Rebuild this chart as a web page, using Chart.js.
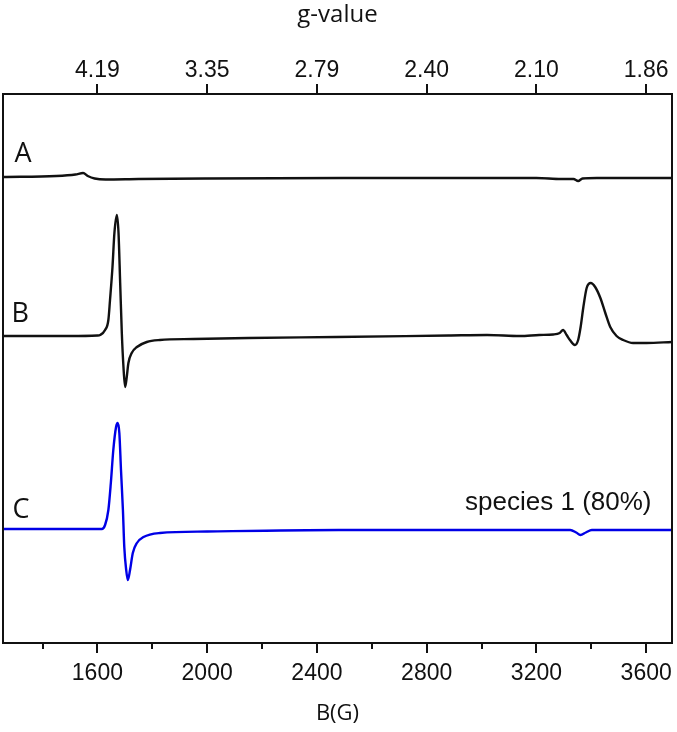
<!DOCTYPE html>
<html>
<head>
<meta charset="utf-8">
<script src="https://cdn.jsdelivr.net/npm/chart.js@4/dist/chart.umd.min.js"></script>
<style>
html,body{margin:0;padding:0;background:#fff;}
canvas{display:block;}
</style>
</head>
<body>
<canvas id="c" width="677" height="732"></canvas>
<script>
// ---- data ----
const fieldA  = [1256, 1450, 1520, 1548, 1565, 1590, 1630, 1750, 2000, 2500, 3000, 3200, 3290, 3335, 3352, 3368, 3420, 3694];
const signalA = [0, 1, 2.5, 4, 1, -1.5, -2.5, -2, -1.5, -1, -1, -1, -2, -2, -4, -1.5, -1, -1];

const fieldB  = [1256, 1500, 1600, 1610, 1628, 1640, 1646, 1655, 1662, 1671, 1677, 1683, 1689, 1695, 1701, 1707, 1713, 1725, 1744, 1780, 1828, 1950, 2150, 2470, 2880, 3020, 3140, 3210, 3261, 3285, 3297, 3310, 3322, 3340, 3352, 3361, 3371, 3383, 3398, 3414, 3433, 3451, 3469, 3492, 3516, 3552, 3601, 3694];
const signalB = [0, 0, 0.5, 1, 6, 16, 36, 69, 103, 121, 103, 53, 3, -31, -51, -41, -27, -17, -11, -6, -4, -3, -2, -1, 0.5, 1, 0, 1, 1.5, 3, 6, 1, -4, -9, -4, 9, 29, 48, 53, 49, 38, 23, 9, 0, -4, -7, -7, -6];

const fieldC  = [1256, 1616, 1628, 1640, 1649, 1658, 1668, 1674, 1680, 1686, 1693, 1698, 1705, 1711, 1719, 1729, 1744, 1768, 1828, 2000, 2480, 3323, 3345, 3360, 3380, 3402, 3694];
const signalC = [0, 0, 4, 19, 46, 79, 102, 106, 96, 59, 19, -18, -41, -51, -41, -24, -14, -8, -4, -2.5, -1, -1, -3.5, -6, -3.5, -1, -1];

const traceNames   = ['A', 'B', 'C'];
const traceOffsets = [466, 307, 114];

const majorTicks = [1600, 2000, 2400, 2800, 3200, 3600];
const minorTicks = [1400, 1800, 2200, 2600, 3000, 3400];
const gLabels    = ['4.19', '3.35', '2.79', '2.40', '2.10', '1.86'];

const speciesNote = 'species 1 (80%)';

// ---- build ----
function pts(f, s, off) { return f.map((x, i) => ({x: x, y: s[i] + off})); }

const labelPos = [
  {text: 'A', x: 1298, y: 481},
  {text: 'B', x: 1287, y: 321},
  {text: 'C', x: 1291, y: 125}
];
const notePos = {x: 2940, y: 133};

const decor = {
  id: 'decor',
  afterDatasetsDraw(chart) {
    const ctx = chart.ctx, a = chart.chartArea, sx = chart.scales.x;
    ctx.save();
    ctx.strokeStyle = '#111';
    ctx.lineWidth = 2;
    ctx.strokeRect(a.left, a.top, a.right - a.left, a.bottom - a.top);
    ctx.beginPath();
    majorTicks.forEach(v => {
      const p = Math.round(sx.getPixelForValue(v));
      ctx.moveTo(p, a.bottom); ctx.lineTo(p, a.bottom + 10);
      ctx.moveTo(p, a.top); ctx.lineTo(p, a.top - 10);
    });
    minorTicks.forEach(v => {
      const p = Math.round(sx.getPixelForValue(v));
      ctx.moveTo(p, a.bottom); ctx.lineTo(p, a.bottom + 6);
    });
    ctx.stroke();
    const sy = chart.scales.y;
    ctx.fillStyle = '#111';
    ctx.textBaseline = 'alphabetic';
    ctx.textAlign = 'left';
    ctx.font = '27px "Open Sans"';
    labelPos.forEach(l => {
      ctx.fillText(l.text, sx.getPixelForValue(l.x), sy.getPixelForValue(l.y));
    });
    ctx.font = '26px "Liberation Sans"';
    ctx.fillText(speciesNote, sx.getPixelForValue(notePos.x), sy.getPixelForValue(notePos.y));
    ctx.restore();
  }
};

const colors = ['#111111', '#111111', '#0000e6'];
const fields = [fieldA, fieldB, fieldC];
const signals = [signalA, signalB, signalC];

function noSidePad(s, h) { s.height = h; s.paddingLeft = 0; s.paddingRight = 0; }

new Chart(document.getElementById('c'), {
  type: 'line',
  data: {
    datasets: traceNames.map((n, i) => ({
      label: n,
      data: pts(fields[i], signals[i], traceOffsets[i]),
      borderColor: colors[i],
      borderWidth: 2.4,
      pointRadius: 0,
      cubicInterpolationMode: 'monotone',
      fill: false
    }))
  },
  options: {
    responsive: false,
    animation: false,
    layout: {padding: {left: 3, right: 5, top: 0, bottom: 0}},
    plugins: {legend: {display: false}, tooltip: {enabled: false}},
    scales: {
      x: {
        type: 'linear', position: 'bottom', min: 1256, max: 3694,
        afterBuildTicks: s => { s.ticks = majorTicks.map(v => ({value: v})); },
        afterFit: s => noSidePad(s, 89),
        grid: {display: false, drawTicks: false},
        border: {display: false},
        ticks: {
          padding: 17, color: '#111', maxRotation: 0, autoSkip: false,
          font: {family: '"Liberation Sans"', size: 23},
          callback: v => String(v)
        },
        title: {
          display: true, text: 'B(G)', color: '#111',
          font: {family: '"Open Sans"', size: 22},
          padding: {top: 0, bottom: 5}
        }
      },
      x2: {
        type: 'linear', position: 'top', min: 1256, max: 3694,
        afterBuildTicks: s => { s.ticks = majorTicks.map(v => ({value: v})); },
        afterFit: s => noSidePad(s, 94),
        grid: {display: false, drawTicks: false},
        border: {display: false},
        ticks: {
          padding: 10, color: '#111', maxRotation: 0, autoSkip: false,
          font: {family: '"Liberation Sans"', size: 23},
          callback: (v, i) => gLabels[i]
        },
        title: {
          display: true, text: 'g-value', color: '#111',
          font: {family: '"Open Sans"', size: 24},
          padding: {top: 1, bottom: 0}
        }
      },
      y: {display: false, min: 0, max: 549}
    }
  },
  plugins: [decor]
});
</script>
</body>
</html>
